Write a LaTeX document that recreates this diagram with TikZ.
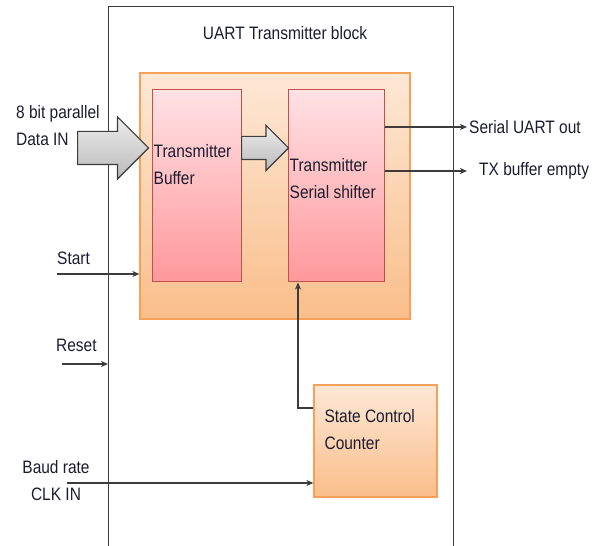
\documentclass[tikz,border=0pt]{standalone}
\usepackage{fontspec}
\setmainfont{Liberation Sans}[FakeStretch=0.86]
\usetikzlibrary{positioning, arrows.meta, shapes.arrows}
\definecolor{frame}{RGB}{60,60,60}
\definecolor{ink}{RGB}{28,28,48}
\definecolor{orangeline}{RGB}{247,160,90}
\definecolor{orangetop}{RGB}{253,232,214}
\definecolor{orangebot}{RGB}{250,190,138}
\definecolor{pinkline}{RGB}{192,80,77}
\definecolor{pinktop}{RGB}{255,226,228}
\definecolor{pinkbot}{RGB}{255,152,156}
\definecolor{greytop}{RGB}{236,236,236}
\definecolor{greybot}{RGB}{186,186,186}

\begin{document}
\begin{tikzpicture}[
  x=1pt, y=1pt,
  font=\fontsize{18}{27}\selectfont, text=ink,
  outer/.style={draw=frame, line width=1.3pt, minimum width=345pt, minimum height=600pt, anchor=north west, inner sep=0pt},
  group/.style={draw=orangeline, line width=1.2pt, top color=orangetop, bottom color=orangebot, minimum width=270pt, minimum height=246pt, inner sep=0pt},
  unit/.style={draw=pinkline, line width=1pt, top color=pinktop, bottom color=pinkbot, minimum height=192pt, inner sep=0pt},
  ctrl/.style={draw=orangeline, line width=1.2pt, top color=orangetop, bottom color=orangebot, minimum width=123pt, minimum height=112pt, inner sep=0pt},
  bus/.style={single arrow, draw=frame, line width=1.2pt, top color=greytop, bottom color=greybot, inner xsep=0pt, anchor=tail},
  lbl/.style={align=left, inner sep=1pt},
  sig/.style={draw=frame, line width=1.2pt, -{Stealth[length=7pt, width=6pt, inset=2pt]}}
]
\useasboundingbox (0,0) rectangle (603,546);
\clip (0,0) rectangle (603,546);

% enclosing transmitter block
\node[outer] (uart) at (108,540) {};
\node (title) at (285,513) {UART Transmitter block};

% data path
\node[group] (path) at (275,350) {};
\node[unit, minimum width=89pt] (buf) at (196.5,360) {};
\node[unit, minimum width=96pt] (shf) at (336,360) {};
\node[lbl, below right=54pt and 1pt of buf.north west] (buftxt) {Transmitter\\Buffer};
\node[lbl, below right=68pt and 1pt of shf.north west] (shftxt) {Transmitter\\Serial shifter};

% counter
\node[ctrl] (cnt) at (375.5,105) {};
\node[lbl, below right=24pt and 10pt of cnt.north west] (cnttxt) {State Control\\Counter};

% wide data arrows
\node[bus, minimum height=71pt, inner ysep=16pt, single arrow head extend=14.5pt] (din) at (77,398) {};
\node[bus, minimum height=47pt, inner ysep=11pt, single arrow head extend=11pt] (dmove) at (241,398) {};

% inputs
\node[lbl, anchor=north west] (dlbl) at (15,442) {8 bit parallel\\Data IN};
\node[lbl, anchor=west] (startlbl) at (56,288) {Start};
\node[lbl, anchor=west] (resetlbl) at (55,201) {Reset};
\node[align=center, inner sep=1pt] (baudlbl) at (56,65) {Baud rate\\CLK IN};
\coordinate (startin) at (57,272);
\coordinate (resetin) at (62,182);
\coordinate (baudin) at (67,63);

\draw[sig] (startin) -- (startin -| path.west);
\draw[sig] (resetin) -- (resetin -| uart.west);
\draw[sig] (baudin) -- (baudin -| cnt.west);

% outputs
\coordinate (txout) at (467,419);
\coordinate (emptyout) at (467,375);
\node[lbl, anchor=west] (txlbl) at (468,419) {Serial UART out};
\node[lbl, anchor=west] (emptylbl) at (478,375) {TX buffer empty};
\draw[sig] (shf.east |- txout) -- (txout);
\draw[sig] (shf.east |- emptyout) -- (emptyout);

% counter feeds the shifter
\draw[sig] ([yshift=33pt]cnt.west) -| ([xshift=-38pt]shf.south);
\end{tikzpicture}
\end{document}
